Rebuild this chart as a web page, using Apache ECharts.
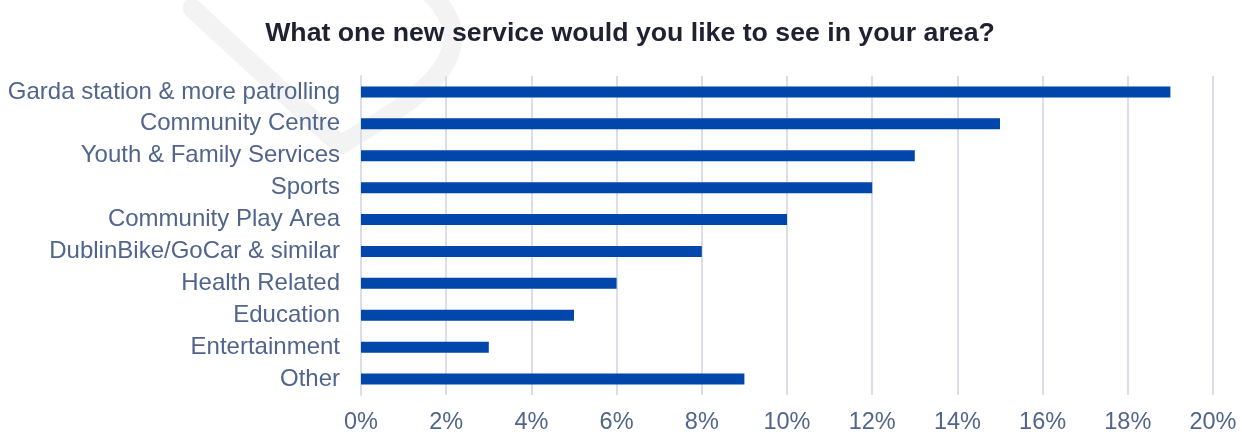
<!DOCTYPE html>
<html>
<head>
<meta charset="utf-8">
<script src="https://cdn.jsdelivr.net/npm/echarts@6/dist/echarts.min.js"></script>
<style>
  html, body { margin: 0; padding: 0; background: #ffffff; }
  #chart { width: 1242px; height: 435px; }
</style>
</head>
<body>
<div id="chart"></div>
<script>
// Survey answers, listed top to bottom
const categories = [
  'Garda station & more patrolling',
  'Community Centre',
  'Youth & Family Services',
  'Sports',
  'Community Play Area',
  'DublinBike/GoCar & similar',
  'Health Related',
  'Education',
  'Entertainment',
  'Other'
];
// Share of respondents, in percent
const shares = [19, 15, 13, 12, 10, 8, 6, 5, 3, 9];
// Value axis ticks (percent)
const tickMin = 0;
const tickMax = 20;
const tickStep = 2;

const labelColor = '#51658c';
const fontStack = 'Liberation Sans, Arial, sans-serif';
const markStyle = { stroke: '#f3f3f3', lineWidth: 19, lineCap: 'round', fill: null };

const chart = echarts.init(document.getElementById('chart'), null, { renderer: 'canvas' });

chart.setOption({
  backgroundColor: '#ffffff',
  animation: false,
  title: {
    text: 'What one new service would you like to see in your area?',
    left: 625,
    top: 15,
    textAlign: 'center',
    textStyle: {
      fontFamily: fontStack,
      fontSize: 26.7,
      fontWeight: 'bold',
      color: '#1d2130'
    }
  },
  // faint background stamp behind the plot
  graphic: [
    {
      type: 'line',
      silent: true,
      z: -10,
      shape: { x1: 192, y1: 8, x2: 340, y2: 145 },
      style: markStyle
    },
    {
      type: 'bezierCurve',
      silent: true,
      z: -10,
      shape: { x1: 340, y1: 145, cpx1: 390, cpy1: 115, cpx2: 445, cpy2: 85, x2: 452, y2: 45 },
      style: markStyle
    },
    {
      type: 'bezierCurve',
      silent: true,
      z: -10,
      shape: { x1: 452, y1: 45, cpx1: 458, cpy1: 25, cpx2: 440, cpy2: 2, x2: 425, y2: -12 },
      style: markStyle
    }
  ],
  grid: {
    left: 361,
    right: 29,
    top: 76,
    height: 320,
    containLabel: false
  },
  xAxis: {
    type: 'value',
    min: tickMin,
    max: tickMax,
    interval: tickStep,
    axisLine: { show: false },
    axisTick: { show: false },
    splitLine: { show: true, lineStyle: { color: '#d9dee9', width: 2 } },
    axisLabel: {
      formatter: v => v + '%',
      color: labelColor,
      fontFamily: fontStack,
      fontSize: 23.5,
      margin: 16
    }
  },
  yAxis: {
    type: 'category',
    data: categories,
    inverse: true,
    axisLine: { show: true, lineStyle: { color: '#d9dee9', width: 2 } },
    axisTick: { show: false },
    axisLabel: {
      color: labelColor,
      fontFamily: fontStack,
      fontSize: 24,
      margin: 21
    }
  },
  series: [{
    type: 'bar',
    data: shares,
    barWidth: 11,
    itemStyle: { color: '#0046ab' }
  }]
});
</script>
</body>
</html>
